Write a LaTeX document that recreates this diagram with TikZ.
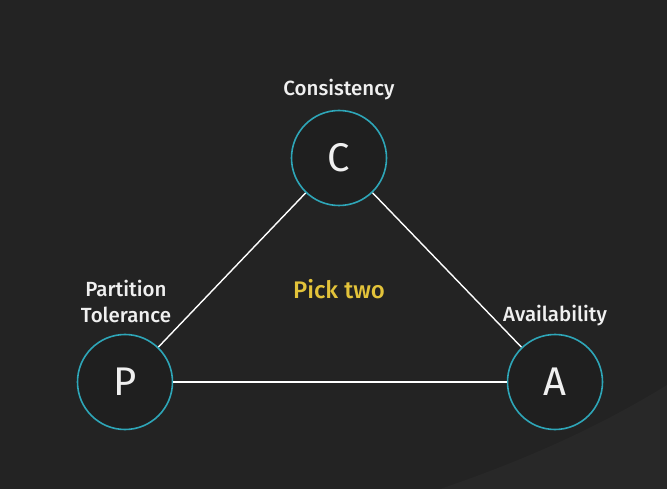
\documentclass[tikz,border=0pt]{standalone}
\usepackage{fontspec}
\setmainfont{Fira Sans}[UprightFont=* Medium]
\newfontfamily\letterfont{Fira Sans}
\definecolor{bg}{HTML}{232323}
\definecolor{bglight}{HTML}{282828}
\definecolor{ring}{HTML}{2EA6B8}
\definecolor{disc}{HTML}{1F1F1F}
\definecolor{pick}{HTML}{E3C33A}
\definecolor{txt}{HTML}{F0F0F0}
\begin{document}
\begin{tikzpicture}[x=1pt,y=-1pt,
  vert/.style={circle,draw=ring,line width=1.6pt,fill=disc,minimum size=95pt,inner sep=0pt,text=txt,font=\letterfont\fontsize{40}{42}\selectfont},
  lbl/.style={text=txt,font=\fontsize{20.5}{26}\selectfont,align=center,inner sep=0pt},
  edge/.style={draw=white,line width=1.4pt}]
\fill[bg] (0,0) rectangle (667,489);
\useasboundingbox (0,0) rectangle (667,489);
\fill[bglight] (440,489) .. controls (540,455) and (610,420) .. (667,385) -- (667,489) -- cycle;
\node[vert] (C) at (339,158) {C};
\node[vert] (P) at (125,382) {P};
\node[vert] (A) at (555,382) {A};
\draw[edge] (C) -- (P);
\draw[edge] (C) -- (A);
\draw[edge] (P) -- (A);
\node[lbl] (lc) at (339,90) {Consistency};
\node[lbl] (lp) at (126,301) {Partition\\Tolerance};
\node[lbl] (la) at (555,316) {Availability};
\node[lbl,text=pick,font=\fontsize{24}{28}\selectfont] (pt) at (339,289) {Pick two};
\end{tikzpicture}
\end{document}
